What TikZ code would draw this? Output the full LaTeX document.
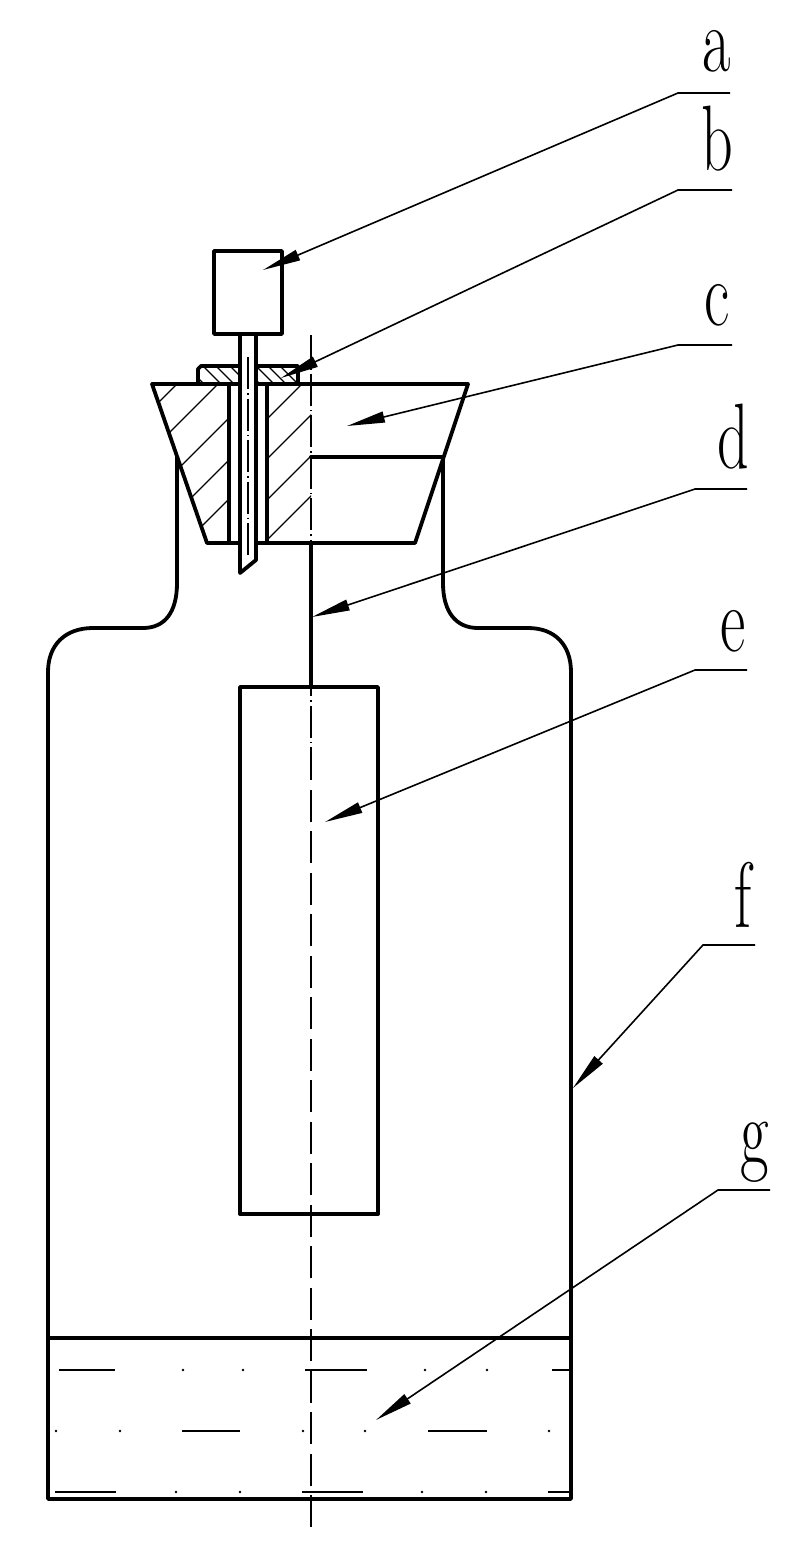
\documentclass[tikz,border=0pt]{standalone}
\usetikzlibrary{arrows.meta}
\newcommand{\tallabel}[1]{\scalebox{1}[1.5]{#1}}
\tikzset{
  thick line/.style={line width=3.8pt,line cap=round,line join=round,black},
  hatch line/.style={line width=1.3pt,black},
  center line/.style={line width=1.9pt,black,dash pattern=on 32pt off 4pt on 1.5pt off 4pt},
  plain center/.style={line width=1.9pt,black,dash pattern=on 32pt off 9.5pt},
  leader/.style={line width=1.6pt,black,-{Triangle[length=38pt,width=11pt]}},
  liquid/.style={line width=2pt,black},
  drop/.style={fill=black,circle,inner sep=0pt,minimum size=2.6pt},
  lab/.style={font=\fontsize{62}{62}\selectfont,anchor=base,inner sep=0pt}
}
\begin{document}
\begin{tikzpicture}[x=1pt,y=-1pt]
\useasboundingbox (0,0) rectangle (806,1550);
% centre line
\coordinate (cl1) at (311,335);
\coordinate (clm) at (311,779);
\coordinate (cl2) at (311,1527);
\draw[plain center] (cl2) -- (clm);
\draw[center line] (clm) -- (cl1);
% hatching of stopper
\begin{scope}
\clip (152,384) -- (229,384) -- (229,543) -- (207,543) -- cycle;
\foreach \s in {561,602,647,689,728}
  \draw[hatch line] (\s-250,250) -- (\s-600,600);
\end{scope}
\begin{scope}
\clip (267,384) -- (311,384) -- (311,543) -- (267,543) -- cycle;
\foreach \s in {686,726,767,807}
  \draw[hatch line] (\s-250,250) -- (\s-600,600);
\end{scope}
% hatching of plate
\begin{scope}
\clip (198,367) rectangle (240,384);
\foreach \s in {-180,-163,-150,-136}
  \draw[hatch line] (\s+300,300) -- (\s+420,420);
\end{scope}
\begin{scope}
\clip (256,367) rectangle (298,384);
\foreach \s in {-124,-110,-98,-86}
  \draw[hatch line] (\s+300,300) -- (\s+420,420);
\end{scope}
% bottle
\draw[thick line] (177,457) -- (177,583) .. controls (177,612) and (165,628) .. (143,628)
  -- (93,628) .. controls (65,628) and (48,645) .. (48,672) -- (48,1499) -- (571,1499)
  -- (571,672) .. controls (571,645) and (555,628) .. (528,628) -- (478,628)
  .. controls (456,628) and (443,612) .. (443,583) -- (443,457);
\draw[thick line] (48,1338) -- (571,1338);
% stopper
\draw[thick line] (240,384) -- (152,384) -- (207,543) -- (240,543);
\draw[thick line] (256,384) -- (468,384) -- (415,543) -- (256,543);
\draw[thick line] (311,457) -- (443,457);
\draw[thick line] (229,384) -- (229,543);
\draw[thick line] (267,384) -- (267,543);
% plate
\draw[thick line] (240,366) -- (201,366) -- (198,369) -- (198,384);
\draw[thick line] (256,366) -- (298,366) -- (298,384);
% pin and head
\draw[thick line] (214,251) rectangle (282,334);
\draw[thick line] (240,334) -- (240,573) -- (256,560) -- (256,334);
\draw[center line] (248,357) -- (248,556);
% rod and float
\draw[thick line] (311,543) -- (311,687);
\draw[thick line] (240,687) rectangle (378,1214);
% liquid marks
\foreach \a/\b/\y in {59/115/1370,305/367/1370,552/570/1370,182/240/1431,428/487/1431,55/116/1492,302/363/1492,548/570/1492}
  \draw[liquid] (\a,\y) -- (\b,\y);
\foreach \x/\y in {183/1370,243/1370,425/1370,487/1370,56/1431,120/1431,303/1431,365/1431,549/1431,176/1492,240/1492,422/1492,486/1492}
  \node[drop] at (\x,\y) {};
% labels
\node[lab] (la) at (717,71) {\tallabel{a}};
\node[lab] (lb) at (717,170) {\tallabel{b}};
\node[lab] (lc) at (717,325) {\tallabel{c}};
\node[lab] (ld) at (733,468) {\tallabel{d}};
\node[lab] (le) at (733,651) {\tallabel{e}};
\node[lab] (lf) at (743,927) {\tallabel{f}};
\node[lab] (lg) at (755,1163) {\tallabel{g}};
% leaders
\foreach \n/\xa/\xb/\y/\tx/\ty in {a/730/678/93/263/270,b/732/678/190/281/378,c/732/678/345/347/426,d/747/695/489/312/617,e/747/695/670/325/822,f/755/703/945/573/1088,g/770/718/1190/376/1420}{
  \coordinate (s\n) at (\xa,\y);
  \coordinate (k\n) at (\xb,\y);
  \coordinate (t\n) at (\tx,\ty);
  \draw[leader] (s\n) -- (k\n) -- (t\n);
}
\end{tikzpicture}
\end{document}
